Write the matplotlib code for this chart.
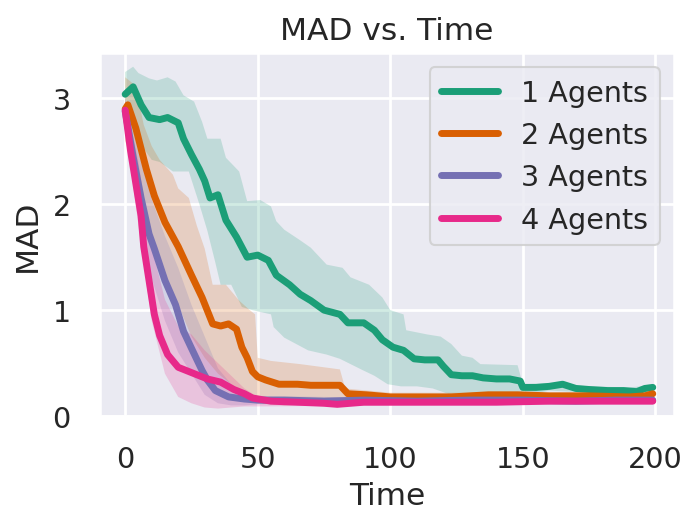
import matplotlib
matplotlib.use("Agg")
import matplotlib.pyplot as plt
import seaborn as sns
import numpy as np

# values
labels = ["1 Agents", "2 Agents", "3 Agents", "4 Agents"]

g_t = [0, 3, 6, 9, 13, 16, 20, 22, 25, 28, 30, 32, 35, 38, 42, 46, 50, 54, 57, 62,
       66, 70, 75, 78, 81, 84, 90, 94, 97, 101, 105, 109, 113, 118, 120, 123, 127, 131, 135, 140,
       145, 149, 150, 155, 160, 165, 170, 175, 182, 188, 193, 196, 199]
g_v = [3.04, 3.11, 2.94, 2.82, 2.80, 2.82, 2.77, 2.62, 2.47, 2.33, 2.22, 2.06, 2.09, 1.85, 1.69, 1.50, 1.52, 1.47, 1.33, 1.24,
       1.15, 1.09, 1.00, 0.98, 0.96, 0.88, 0.88, 0.81, 0.72, 0.65, 0.62, 0.54, 0.53, 0.53, 0.47, 0.39, 0.38, 0.38, 0.36, 0.35,
       0.35, 0.33, 0.27, 0.27, 0.28, 0.30, 0.26, 0.25, 0.24, 0.24, 0.23, 0.26, 0.27]
gu_t = [0, 3, 5, 9, 12, 16, 19, 22, 26, 29, 31, 36, 38, 43, 46, 51, 55, 57, 60, 66,
        70, 76, 82, 85, 92, 97, 100, 105, 106, 114, 119, 123, 127, 131, 134, 148, 150, 160, 175, 190, 199]
gu_v = [3.25, 3.30, 3.24, 3.19, 3.17, 3.20, 3.16, 3.03, 2.97, 2.78, 2.62, 2.62, 2.44, 2.31, 2.03, 2.04, 1.98, 1.84, 1.76, 1.66,
        1.59, 1.43, 1.40, 1.31, 1.24, 1.12, 1.00, 0.96, 0.81, 0.77, 0.75, 0.68, 0.57, 0.55, 0.49, 0.48, 0.30, 0.31, 0.28, 0.27, 0.29]
gl_t = [0, 5, 10, 13, 18, 24, 28, 31, 34, 36, 40, 44, 48, 55, 56, 60, 69, 76, 81, 89,
        94, 99, 104, 110, 116, 124, 150, 160, 175, 190, 199]
gl_v = [2.85, 2.60, 2.42, 2.40, 2.31, 2.31, 2.00, 1.75, 1.45, 1.24, 1.24, 1.03, 1.00, 0.96, 0.84, 0.74, 0.62, 0.58, 0.54, 0.44,
        0.38, 0.30, 0.28, 0.28, 0.26, 0.19, 0.19, 0.24, 0.22, 0.21, 0.24]

o_t = [0, 1, 4, 8, 11, 15, 20, 25, 29, 33, 36, 39, 42, 44, 46, 48, 50, 53, 58, 65,
       70, 76, 81, 84, 91, 100, 110, 123, 130, 137, 148, 160, 175, 190, 196, 199]
o_v = [2.90, 2.94, 2.72, 2.33, 2.08, 1.83, 1.60, 1.33, 1.12, 0.87, 0.85, 0.87, 0.82, 0.65, 0.55, 0.42, 0.37, 0.34, 0.30, 0.30,
       0.29, 0.29, 0.29, 0.21, 0.20, 0.18, 0.18, 0.18, 0.19, 0.20, 0.20, 0.19, 0.19, 0.18, 0.19, 0.21]
ou_t = [0, 4, 7, 10, 13, 18, 20, 24, 27, 30, 33, 38, 43, 47, 49, 50, 55, 66, 81, 83, 100, 130, 160, 199]
ou_v = [3.20, 3.12, 2.75, 2.55, 2.42, 2.28, 2.15, 2.06, 1.80, 1.58, 1.24, 1.24, 1.09, 1.00, 0.96, 0.55, 0.52, 0.49, 0.44, 0.26,
        0.22, 0.22, 0.22, 0.24]
ol_t = [0, 5, 10, 15, 20, 25, 30, 35, 40, 45, 50, 60, 80, 85, 100, 130, 160, 199]
ol_v = [2.60, 2.20, 1.60, 1.30, 1.05, 0.75, 0.55, 0.40, 0.30, 0.20, 0.12, 0.10, 0.12, 0.16, 0.15, 0.15, 0.16, 0.18]

p_t = [0, 3, 6, 9, 11, 15, 19, 22, 25, 29, 31, 34, 39, 45, 50, 60, 75, 90, 110, 130, 150, 170, 185, 199]
p_v = [2.88, 2.45, 2.06, 1.72, 1.58, 1.28, 1.05, 0.80, 0.64, 0.43, 0.34, 0.24, 0.18, 0.16, 0.15, 0.15, 0.14, 0.15, 0.14, 0.15,
       0.15, 0.14, 0.15, 0.15]
pb_t = [0, 5, 10, 15, 20, 25, 30, 35, 40, 45, 50, 100, 150, 199]
pu_v = [3.00, 2.50, 2.05, 1.70, 1.40, 1.05, 0.75, 0.45, 0.30, 0.22, 0.19, 0.17, 0.17, 0.17]
pl_v = [2.70, 1.90, 1.30, 0.90, 0.60, 0.40, 0.20, 0.12, 0.10, 0.10, 0.11, 0.12, 0.13, 0.13]

k_t = [0, 2, 4, 6, 7, 9, 11, 13, 16, 20, 26, 31, 36, 41, 45, 48, 55, 65, 75, 80,
       90, 100, 120, 140, 160, 180, 199]
k_v = [2.89, 2.51, 2.20, 1.89, 1.60, 1.28, 0.96, 0.76, 0.58, 0.46, 0.40, 0.35, 0.32, 0.25, 0.21, 0.17, 0.14, 0.13, 0.12, 0.11,
       0.13, 0.13, 0.13, 0.13, 0.14, 0.14, 0.14]
kb_t = [0, 5, 10, 15, 20, 25, 30, 35, 40, 45, 50, 100, 150, 199]
ku_v = [3.00, 2.40, 1.60, 1.10, 0.85, 0.77, 0.62, 0.50, 0.38, 0.26, 0.18, 0.15, 0.16, 0.16]
kl_v = [2.75, 1.80, 0.90, 0.40, 0.18, 0.12, 0.08, 0.07, 0.08, 0.09, 0.09, 0.10, 0.11, 0.11]

series = [
    (g_t, g_v, gu_t, gu_v, gl_t, gl_v),
    (o_t, o_v, ou_t, ou_v, ol_t, ol_v),
    (p_t, p_v, pb_t, pu_v, pb_t, pl_v),
    (k_t, k_v, kb_t, ku_v, kb_t, kl_v),
]

sns.set_theme(context="talk", style="darkgrid", font_scale=1.25)
plt.rcParams["grid.linewidth"] = 2.0
plt.rcParams["xtick.major.pad"] = 12
plt.rcParams["ytick.major.pad"] = 12
colors = sns.color_palette("Dark2", 4)

fig = plt.figure(figsize=(6.83, 5.1), dpi=100)
ax = fig.add_axes([0.1464, 0.1824, 0.8404, 0.7118])

for (t, v, tu, vu, tl, vl), c in zip(series, colors):
    # band as a closed polygon: upper edge forward, lower edge back
    ax.fill(np.concatenate([tu, tl[::-1]]), np.concatenate([vu, vl[::-1]]),
            color=c, alpha=0.2, lw=0)
for (t, v, tu, vu, tl, vl), c, lab in zip(series, colors, labels):
    ax.plot(t, v, color=c, lw=5, label=lab)

ax.set_xlim(-9.5, 207)
ax.set_ylim(0.02, 3.43)
ax.set_xticks([0, 50, 100, 150, 200])
ax.set_yticks([0, 1, 2, 3])
ax.set_xlabel("Time", labelpad=6)
ax.set_ylabel("MAD", labelpad=8)
ax.set_title("MAD vs. Time", pad=10)
leg = ax.legend(loc="upper right")
for line in leg.get_lines():
    line.set_linewidth(5)

fig.savefig("out.png", dpi=100)
